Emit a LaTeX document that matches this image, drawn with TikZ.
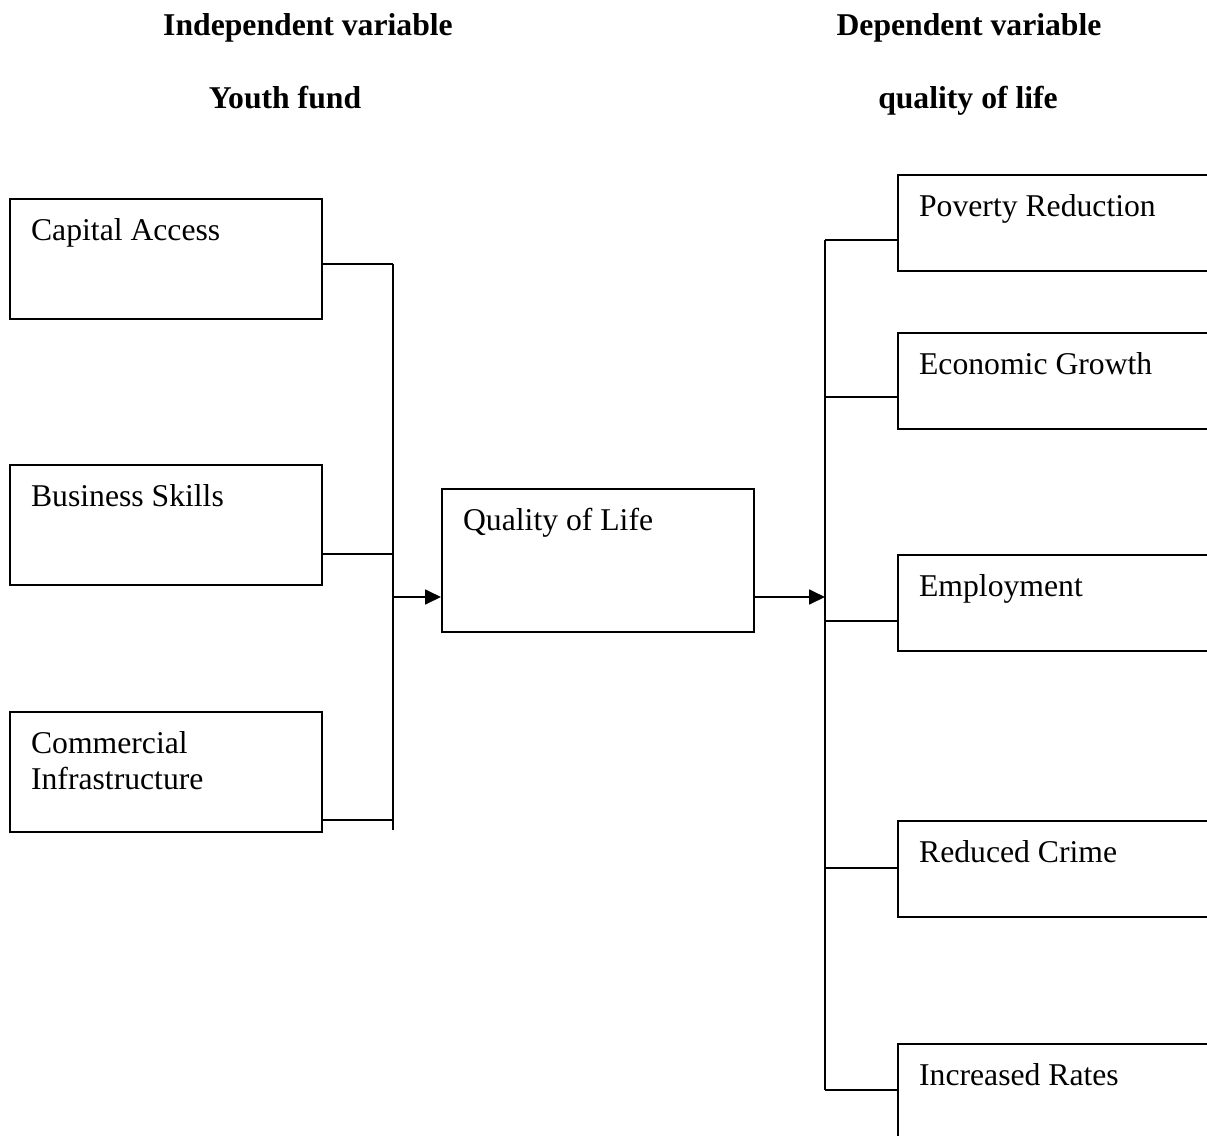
\documentclass[tikz,border=0pt]{standalone}
\usepackage{fontspec}
\setmainfont{Liberation Serif}
\usetikzlibrary{arrows.meta}

\begin{document}
\begin{tikzpicture}[x=0.3788pt,y=-0.3788pt,line width=0.75pt,
  every node/.style={font=\fontsize{12pt}{13.8pt}\selectfont},
  box/.style={draw,rectangle,anchor=north west,inner sep=0pt,minimum width=118.2pt},
  lbox/.style={box,minimum height=45.3pt},
  rbox/.style={box,minimum width=130pt,minimum height=36.2pt},
  boxtext/.style={anchor=north west,inner sep=0pt,xshift=8pt,yshift=-7.4pt,align=left},
  head/.style={anchor=base,font=\fontsize{12pt}{13.8pt}\selectfont\bfseries},
  arr/.style={-{Triangle[length=6pt,width=5.6pt]}}]
  \path[use as bounding box,clip] (0,0) rectangle (1207,1135);
  % headings
  \node[head] (ivar) at (308,36) {Independent variable};
  \node[head] (yfund) at (285,109) {Youth fund};
  \node[head] (dvar) at (969,36) {Dependent variable};
  \node[head] (qlife) at (968,109) {quality of life};
  % independent side
  \node[lbox,label={[boxtext]north west:Capital Access}] (cap) at (9,198) {};
  \node[lbox,label={[boxtext]north west:Business Skills}] (skill) at (9,464) {};
  \node[lbox,label={[boxtext]north west:Commercial\\Infrastructure}] (infra) at (9,711) {};
  \coordinate (l1) at (393,264);
  \coordinate (l2) at (393,554);
  \coordinate (l3) at (393,820);
  \coordinate (lend) at (393,830);
  \draw (l1) -- (lend);
  \draw (cap.east |- l1) -- (l1);
  \draw (skill.east |- l2) -- (l2);
  \draw (infra.east |- l3) -- (l3);
  % middle
  \node[box,minimum height=54.2pt,label={[boxtext]north west:Quality of Life}] (qual) at (441,488) {};
  \coordinate (lin) at (393,597);
  \coordinate (rin) at (825,597);
  \draw[arr] (lin) -- (qual.west |- lin);
  \draw[arr] (qual.east |- rin) -- (rin);
  % dependent side
  \node[rbox,label={[boxtext]north west:Poverty Reduction}] (pov) at (897,174) {};
  \node[rbox,label={[boxtext]north west:Economic Growth}] (eco) at (897,332) {};
  \node[rbox,label={[boxtext]north west:Employment}] (emp) at (897,554) {};
  \node[rbox,label={[boxtext]north west:Reduced Crime}] (crime) at (897,820) {};
  \node[rbox,label={[boxtext]north west:Increased Rates}] (rate) at (897,1043) {};
  \coordinate (rtop) at (825,240);
  \coordinate (rbot) at (825,1090);
  \draw (rtop) -- (rbot);
  \foreach \n/\y in {pov/240,eco/397,emp/621,crime/868,rate/1090}{
    \coordinate (r\n) at (825,\y);
    \draw (r\n) -- (\n.west |- r\n);
  }
\end{tikzpicture}
\end{document}
